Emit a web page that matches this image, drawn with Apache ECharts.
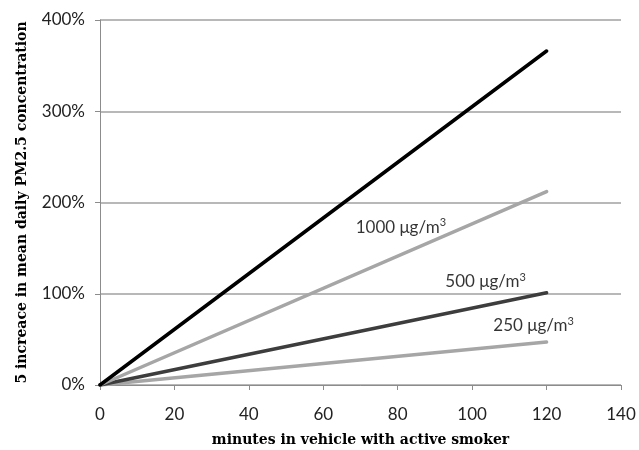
<!DOCTYPE html>
<html>
<head>
<meta charset="utf-8">
<script src="https://cdn.jsdelivr.net/npm/echarts@6/dist/echarts.min.js"></script>
<style>html,body{margin:0;padding:0;background:#fff}#c{width:639px;height:450px}</style>
</head>
<body>
<div id="c"></div>
<script>
var minutes = [0, 120];
var seriesTop = [0, 366];
var series1000 = [0, 212];
var series500 = [0, 101];
var series250 = [0, 47];
var xTicks = [0, 20, 40, 60, 80, 100, 120, 140];
var yTicks = [0, 100, 200, 300, 400];
var labelNames = ['1000', '500', '250'];
var labelPos = [[68.7, 173], [92.8, 113], [105.7, 65]];

function pairs(vals) { return minutes.map(function (m, i) { return [m, vals[i]]; }); }

var chart = echarts.init(document.getElementById('c'));
var lineStyleBase = { width: 3.5, cap: 'round' };
function mkSeries(vals, color) {
  return { type: 'line', data: pairs(vals), symbol: 'none', lineStyle: Object.assign({ color: color }, lineStyleBase), silent: true, z: 3 };
}
var labelSeries = {
  type: 'scatter', symbolSize: 0, silent: true, z: 5,
  data: labelPos.map(function (p, i) { return { value: p, name: labelNames[i] }; }),
  label: {
    show: true, position: 'right', distance: 0,
    formatter: function (p) { return '{t|' + p.name + ' μg/m}{s|3}'; },
    rich: {
      t: { fontFamily: 'Lato', fontSize: 17, color: '#000' },
      s: { fontFamily: 'Lato', fontSize: 11, color: '#000', verticalAlign: 'top', padding: [0, 0, 9, 0] }
    }
  }
};
chart.setOption({
  animation: false,
  grid: { left: 100, right: 18, top: 20, bottom: 65, outerBoundsMode: 'none', containLabel: false },
  xAxis: {
    type: 'value', min: 0, max: 140, interval: 20,
    name: 'minutes in vehicle with active smoker', nameLocation: 'middle', nameGap: 48,
    nameTextStyle: { fontFamily: 'DejaVu Serif', fontWeight: 'bold', fontSize: 14, color: '#000' },
    axisLine: { show: true, lineStyle: { color: '#8c8c8c', width: 1 } },
    axisTick: { show: true, length: 5, lineStyle: { color: '#8c8c8c' } },
    axisLabel: { fontFamily: 'Lato', fontSize: 17, color: '#222', margin: 21 },
    splitLine: { show: false }
  },
  yAxis: {
    type: 'value', min: 0, max: 400, interval: 100,
    name: '5 increace in mean daily PM2.5 concentration', nameLocation: 'middle', nameGap: 71,
    nameTextStyle: { fontFamily: 'DejaVu Serif', fontWeight: 'bold', fontSize: 14, color: '#000' },
    axisLine: { show: true, lineStyle: { color: '#8c8c8c', width: 1 } },
    axisTick: { show: true, length: 5, lineStyle: { color: '#8c8c8c' } },
    axisLabel: { fontFamily: 'Lato', fontSize: 17, color: '#222', margin: 15, formatter: '{value}%' },
    splitLine: { show: true, lineStyle: { color: '#a0a0a0', width: 1.5 } }
  },
  series: [
    mkSeries(series250, '#a6a6a6'),
    mkSeries(series500, '#3d3d3d'),
    mkSeries(series1000, '#a6a6a6'),
    mkSeries(seriesTop, '#000000'),
    labelSeries
  ]
});
</script>
</body>
</html>
